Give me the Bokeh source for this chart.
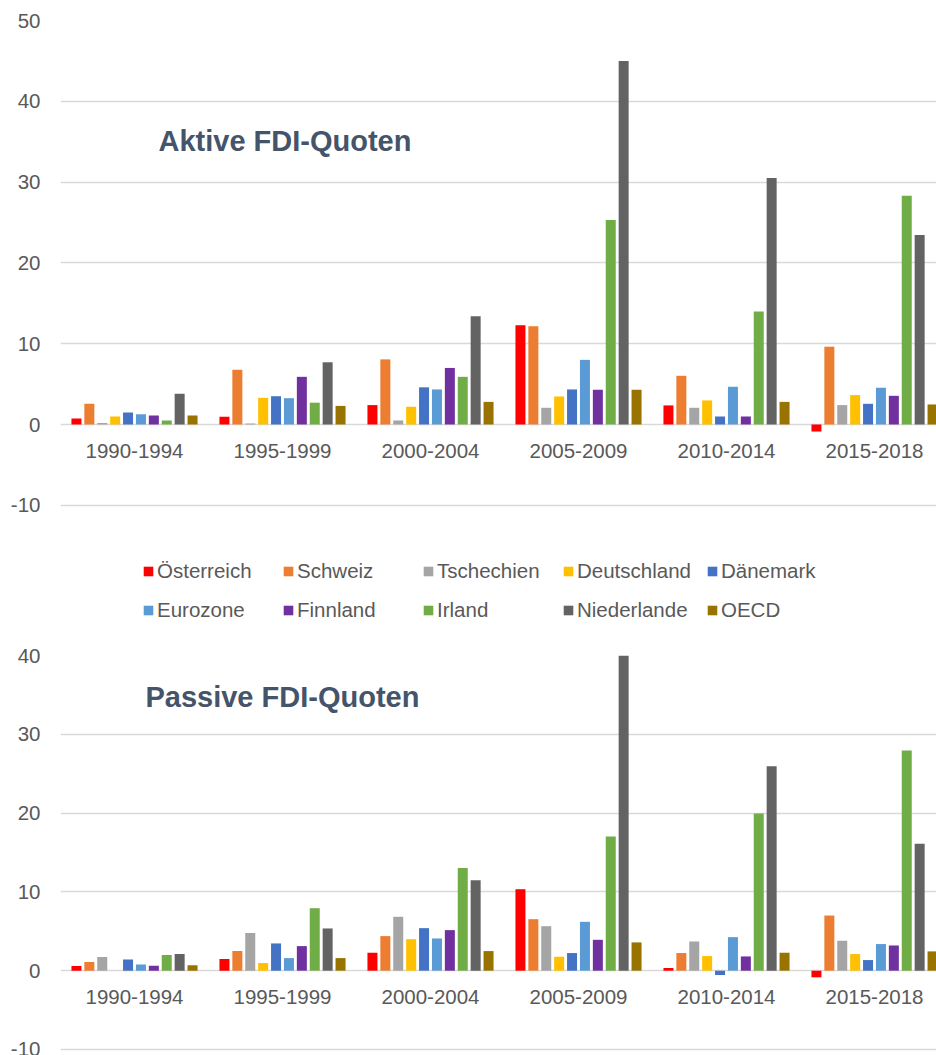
from bokeh.plotting import figure
from bokeh.models import Range1d, FixedTicker, Legend, LegendItem, Label, ColumnDataSource
from bokeh.layouts import column
from bokeh.embed import file_html
from bokeh.resources import INLINE
from bokeh.core.properties import value

# ---------------- data ----------------
periods = ["1990-1994", "1995-1999", "2000-2004", "2005-2009", "2010-2014", "2015-2018"]
countries = ["Österreich", "Schweiz", "Tschechien", "Deutschland", "Dänemark",
             "Eurozone", "Finnland", "Irland", "Niederlande", "OECD"]
colors = ["#FF0000", "#ED7D31", "#A5A5A5", "#FFC000", "#4472C4",
          "#5B9BD5", "#7030A0", "#70AD47", "#636363", "#997300"]

# Aktive FDI-Quoten
aktiv_oesterreich = [0.74, 0.95, 2.4, 12.27, 2.36, -0.87]
aktiv_schweiz = [2.56, 6.78, 8.06, 12.15, 6.03, 9.63]
aktiv_tschechien = [0.2, 0.12, 0.5, 2.07, 2.07, 2.4]
aktiv_deutschland = [1.0, 3.3, 2.2, 3.47, 2.98, 3.64]
aktiv_daenemark = [1.49, 3.5, 4.6, 4.34, 0.99, 2.56]
aktiv_eurozone = [1.28, 3.26, 4.34, 8.0, 4.67, 4.55]
aktiv_finnland = [1.12, 5.9, 7.0, 4.3, 0.99, 3.55]
aktiv_irland = [0.5, 2.7, 5.9, 25.3, 14.0, 28.3]
aktiv_niederlande = [3.8, 7.7, 13.4, 45.0, 30.5, 23.45]
aktiv_oecd = [1.12, 2.3, 2.8, 4.3, 2.8, 2.48]

# Passive FDI-Quoten
passiv_oesterreich = [0.59, 1.48, 2.28, 10.34, 0.34, -0.84]
passiv_schweiz = [1.1, 2.49, 4.39, 6.54, 2.24, 7.0]
passiv_tschechien = [1.73, 4.77, 6.84, 5.65, 3.71, 3.8]
passiv_deutschland = [0.0, 0.97, 4.0, 1.77, 1.86, 2.11]
passiv_daenemark = [1.43, 3.46, 5.4, 2.24, -0.55, 1.35]
passiv_eurozone = [0.8, 1.6, 4.09, 6.2, 4.26, 3.38]
passiv_finnland = [0.63, 3.12, 5.15, 3.92, 1.81, 3.2]
passiv_irland = [1.98, 7.93, 13.04, 17.04, 19.96, 27.96]
passiv_niederlande = [2.11, 5.36, 11.48, 40.0, 25.93, 16.1]
passiv_oecd = [0.68, 1.6, 2.49, 3.59, 2.28, 2.45]

aktiv_ticks = [-10, 0, 10, 20, 30, 40, 50]
passiv_ticks = [-10, 0, 10, 20, 30, 40]

aktiv_series = [aktiv_oesterreich, aktiv_schweiz, aktiv_tschechien, aktiv_deutschland,
                aktiv_daenemark, aktiv_eurozone, aktiv_finnland, aktiv_irland,
                aktiv_niederlande, aktiv_oecd]
passiv_series = [passiv_oesterreich, passiv_schweiz, passiv_tschechien, passiv_deutschland,
                 passiv_daenemark, passiv_eurozone, passiv_finnland, passiv_irland,
                 passiv_niederlande, passiv_oecd]

# ---------------- style ----------------
FONT = "Liberation Sans"
TXT = "#595959"
GRID = "#D9D9D9"
TITLE_COL = "#44546A"
FS = "20.5px"

LEFT = 60
CAT_PX = 148.0            # pixels per category
FRAME_W = 876
PITCH = 12.9 / CAT_PX     # distance between bars within group
BAR_W = 10.0 / CAT_PX


def make_panel(series, ticks, y_top, px_per_unit, frame_h, border_top, border_bottom,
               title, title_x, title_y, with_legend):
    y_bottom = y_top - frame_h / px_per_unit
    p = figure(width=LEFT + FRAME_W, height=border_top + frame_h + border_bottom,
               x_range=Range1d(0, FRAME_W / CAT_PX), y_range=Range1d(y_bottom, y_top),
               x_axis_location=None, y_axis_location="left",
               min_border_left=LEFT, min_border_right=0,
               min_border_top=border_top, min_border_bottom=border_bottom,
               output_backend="svg", toolbar_location=None, tools="")
    p.outline_line_color = None
    p.background_fill_color = "white"
    p.border_fill_color = "white"
    p.xgrid.visible = False
    p.ygrid.ticker = FixedTicker(ticks=ticks)
    p.ygrid.grid_line_color = GRID
    p.ygrid.grid_line_width = 1.5

    ax = p.yaxis[0]
    ax.ticker = FixedTicker(ticks=ticks)
    ax.major_label_overrides = {t: str(t) for t in ticks}
    ax.axis_line_color = None
    ax.major_tick_line_color = None
    ax.minor_tick_line_color = None
    ax.major_tick_in = 0
    ax.major_tick_out = 0
    ax.major_label_standoff = 20
    ax.major_label_text_font = FONT
    ax.major_label_text_font_size = FS
    ax.major_label_text_color = TXT

    renderers = []
    for i, vals in enumerate(series):
        xs = [j + 0.5 + (i - 4.5) * PITCH for j in range(len(periods))]
        src = ColumnDataSource(dict(x=xs, top=vals))
        r = p.vbar(x="x", top="top", bottom=0, width=BAR_W, source=src,
                   fill_color=colors[i], line_color=None)
        renderers.append(r)

    # category labels under the zero line
    lab_src = ColumnDataSource(dict(x=[j + 0.5 for j in range(len(periods))],
                                    y=[0] * len(periods), t=periods))
    p.text(x="x", y="y", text="t", source=lab_src, y_offset=26,
           text_align="center", text_baseline="alphabetic",
           text_font=value(FONT), text_font_size=FS, text_color=TXT)

    p.add_layout(Label(x=title_x, y=title_y, text=title, text_font=FONT,
                       text_font_size="29px", text_font_style="bold",
                       text_color=TITLE_COL, text_baseline="alphabetic",
                       text_align="left"))

    if with_legend:
        items = [LegendItem(label=countries[i], renderers=[renderers[i]])
                 for i in range(len(countries))]
        lg = Legend(items=items, location=(82, 18), orientation="horizontal", ncols=5,
                    glyph_width=12, glyph_height=12, label_standoff=3, spacing=15,
                    label_width=110, label_height=23, padding=0, margin=0,
                    border_line_color=None, background_fill_alpha=0,
                    label_text_font=FONT, label_text_font_size=FS,
                    label_text_color=TXT)
        p.add_layout(lg, "center")
    return p


top = make_panel(aktiv_series, aktiv_ticks, 50, 8.08, 620, 20, 0,
                 "Aktive FDI-Quoten", 0.662, 35.1, True)
bottom = make_panel(passiv_series, passiv_ticks, 40, 7.88, 396, 15, 4,
                    "Passive FDI-Quoten", 0.574, 34.74, False)

layout = column(top, bottom, spacing=0)
open("out.html", "w").write(file_html(layout, INLINE))
